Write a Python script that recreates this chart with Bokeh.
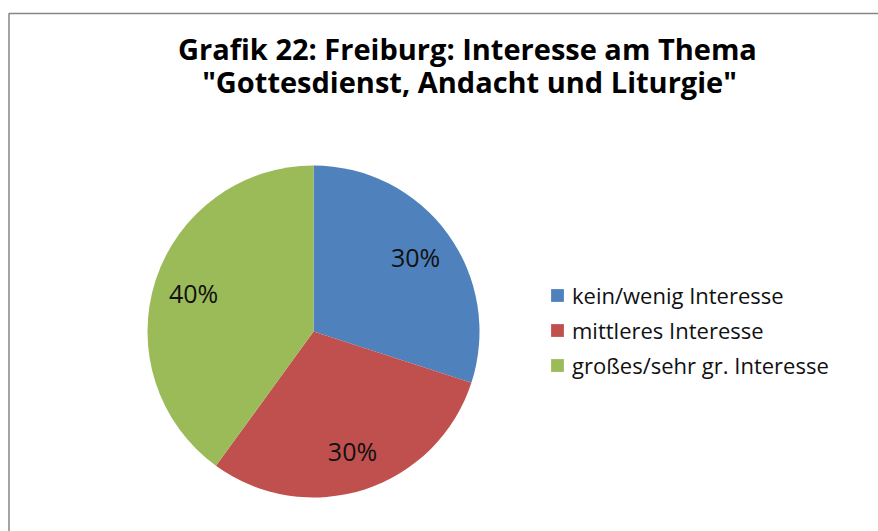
import math
from bokeh.plotting import figure
from bokeh.models import Range1d, ColumnDataSource, Legend, LegendItem
from bokeh.core.properties import value
from bokeh.embed import file_html
from bokeh.resources import INLINE

title_lines = ["Grafik 22: Freiburg: Interesse am Thema",
               "\"Gottesdienst, Andacht und Liturgie\""]
categories = ["kein/wenig Interesse", "mittleres Interesse", "großes/sehr gr. Interesse"]
shares = [30, 30, 40]
colors = ["#4F81BD", "#C0504D", "#9BBB59"]

W, H = 878, 531
p = figure(width=W, height=H, output_backend="svg", toolbar_location=None,
           x_range=Range1d(0, W), y_range=Range1d(0, H),
           min_border=0, min_border_left=0, min_border_right=0,
           min_border_top=0, min_border_bottom=0)
p.axis.visible = False
p.grid.visible = False
p.outline_line_color = None
p.background_fill_color = "white"

# chart border (left and top edges visible)
p.line(x=[8.5, 8.5, W], y=[0, 518, 518], line_color="#868686", line_width=1.5)

# pie
cx, cy, R = 313, 200, 166
total = sum(shares)
starts, ends, mids = [], [], []
acc = 0.0
for s in shares:
    a0 = math.pi / 2 - 2 * math.pi * acc / total
    acc += s
    a1 = math.pi / 2 - 2 * math.pi * acc / total
    starts.append(a0)
    ends.append(a1)
    mids.append((a0 + a1) / 2)

src = ColumnDataSource(dict(cat=categories, start=starts, end=ends, color=colors,
                            x=[cx] * 3, y=[cy] * 3))
r = p.wedge(x="x", y="y", radius=R, start_angle="start", end_angle="end",
            direction="clock", fill_color="color", line_color=None, source=src)

lab = ColumnDataSource(dict(
    x=[cx + 0.76 * R * math.cos(m) for m in mids],
    y=[cy + 0.76 * R * math.sin(m) for m in mids],
    t=[f"{s}%" for s in shares]))
p.text(x="x", y="y", text="t", source=lab, text_align="center", text_baseline="middle",
       text_font=value("Open Sans"), text_font_size="25px", text_color="#111111")

# title
tsrc = ColumnDataSource(dict(x=[467, 469], y=[483, 450], t=title_lines))
p.text(x="x", y="y", text="t", source=tsrc, text_align="center", text_baseline="middle",
       text_font=value("Open Sans"), text_font_style="bold", text_font_size="29px",
       text_color="black")

# legend
items = [LegendItem(label=c, renderers=[r], index=i) for i, c in enumerate(categories)]
leg = Legend(items=items, location=(549, 151), orientation="vertical",
             glyph_width=16, glyph_height=16, label_standoff=7, spacing=5,
             padding=0, margin=0, border_line_color=None, background_fill_alpha=0,
             label_text_font="Open Sans", label_text_font_size="22px",
             label_text_color="#111111", label_height=22)
p.add_layout(leg)

open("out.html", "w").write(file_html(p, INLINE))
